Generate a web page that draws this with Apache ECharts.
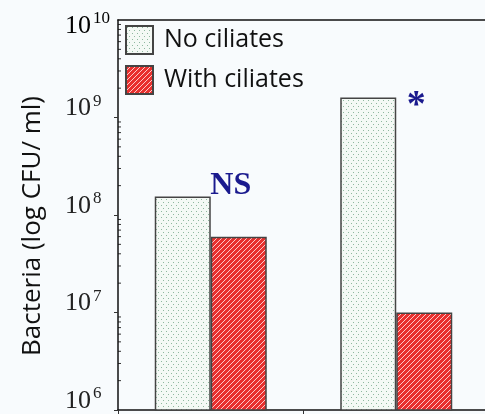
<!DOCTYPE html>
<html><head><meta charset="utf-8">
<script src="https://cdn.jsdelivr.net/npm/echarts@6/dist/echarts.min.js"></script>
<style>html,body{margin:0;padding:0;background:#f8fbfd}#c{width:485px;height:414px}</style>
</head><body><div id="c"></div>
<script>
const categories = ['Group A', 'Group B'];
const seriesNames = ['No ciliates', 'With ciliates'];
const noCiliates = [1.55e8, 1.6e9];
const withCiliates = [6.0e7, 1.0e7];
const annotations = ['NS', '*'];
const yMin = 1e6, yMax = 1e10;
const minorTickValues = [];
[1e6, 1e7, 1e8, 1e9].forEach(d => { for (let k = 2; k <= 9; k++) minorTickValues.push(k * d); });

function makePattern(kind) {
  const c = document.createElement('canvas');
  if (kind === 'dots') {
    c.width = 5; c.height = 6;
    const g = c.getContext('2d');
    g.fillStyle = '#f4f9f5'; g.fillRect(0, 0, 5, 6);
    g.fillStyle = '#8fb89f';
    g.fillRect(1, 1, 1, 1);
    g.fillRect(3, 4, 1, 1);
  } else {
    c.width = 5; c.height = 5;
    const g = c.getContext('2d');
    g.fillStyle = '#e8302e'; g.fillRect(0, 0, 5, 5);
    g.strokeStyle = 'rgba(255,220,220,0.9)'; g.lineWidth = 1;
    g.beginPath();
    g.moveTo(-1, 6); g.lineTo(6, -1);
    g.moveTo(-1, 1); g.lineTo(1, -1);
    g.moveTo(4, 6); g.lineTo(6, 4);
    g.stroke();
  }
  return c;
}

const supLabel = v => '{b|10}{s|' + Math.round(Math.log10(v)) + '}';
const labelRich = {
  b: { fontFamily: 'Liberation Serif', fontSize: 26, color: '#222' },
  s: { fontFamily: 'Liberation Serif', fontSize: 17, color: '#222', padding: [0, 0, 14, 2] }
};

const chart = echarts.init(document.getElementById('c'));
const option = {
  backgroundColor: '#f8fbfd',
  animation: false,
  grid: { left: 118, top: 20, bottom: 4, right: -4, containLabel: false, outerBoundsMode: 'none' },
  legend: {
    left: 125, top: 25, padding: 0, orient: 'vertical', itemWidth: 27, itemHeight: 28, itemGap: 10,
    icon: 'rect',
    textStyle: { fontFamily: 'Open Sans', fontSize: 25, lineHeight: 28, color: '#111', padding: [2, 0, 0, 6] },
    data: seriesNames
  },
  xAxis: [{
    type: 'category', data: categories, boundaryGap: true,
    axisLine: { show: true, lineStyle: { color: '#111', width: 1.5 } },
    axisTick: { show: true, inside: false, length: 5, lineStyle: { color: '#333' } },
    axisLabel: { show: false }
  }, {
    type: 'category', data: categories, position: 'top',
    axisLine: { show: true, lineStyle: { color: '#111', width: 1.5 } },
    axisTick: { show: false }, axisLabel: { show: false }
  }],
  yAxis: {
    type: 'log', logBase: 10, min: yMin, max: yMax,
    name: 'Bacteria (log CFU/ ml)', nameLocation: 'middle', nameGap: 72,
    nameTextStyle: { fontFamily: 'Open Sans', fontSize: 26, color: '#111', padding: [0, 22, 0, 0] },
    axisLine: { show: true, lineStyle: { color: '#111', width: 1.5 } },
    axisTick: { show: true, inside: false, length: 4, lineStyle: { color: '#333' } },
    splitLine: { show: false },
    axisLabel: {
      margin: 53, align: 'left', verticalAlign: 'middle', padding: [0, 0, 18, 0],
      showMaxLabel: false,
      formatter: supLabel,
      rich: labelRich
    }
  },
  series: [{
    name: seriesNames[0], type: 'bar', data: noCiliates, barWidth: 56, barGap: '0%',
    itemStyle: { color: { image: makePattern('dots'), repeat: 'repeat' }, borderColor: '#444', borderWidth: 1.5 }
  }, {
    name: seriesNames[1], type: 'bar', data: withCiliates, barWidth: 56, barGap: '0%',
    itemStyle: { color: { image: makePattern('stripes'), repeat: 'repeat' }, borderColor: '#444', borderWidth: 1.5 }
  }]
};
chart.setOption(option);

const graphics = [];
categories.forEach((cat, i) => {
  const p = chart.convertToPixel({ seriesIndex: 0 }, [i, noCiliates[i]]);
  const isStar = annotations[i] === '*';
  graphics.push({
    type: 'text', x: p[0] + 20, y: p[1] + (isStar ? 9 : -11),
    style: {
      text: annotations[i], fontFamily: 'Liberation Serif', fontWeight: 'bold',
      fontSize: isStar ? 38 : 32, fill: '#1a1a8e', align: 'center', verticalAlign: 'middle'
    }
  });
});
const yTop = chart.convertToPixel({ yAxisIndex: 0 }, yMax);
graphics.push({
  type: 'text', x: 65, y: yTop + 6,
  style: { text: supLabel(yMax), rich: labelRich, align: 'left', verticalAlign: 'middle' }
});
minorTickValues.forEach(v => {
  const y = chart.convertToPixel({ yAxisIndex: 0 }, v);
  graphics.push({
    type: 'line', shape: { x1: 118, y1: y, x2: 121, y2: y },
    style: { stroke: '#333', lineWidth: 1 }
  });
});
chart.setOption({ graphic: graphics });
</script></body></html>
